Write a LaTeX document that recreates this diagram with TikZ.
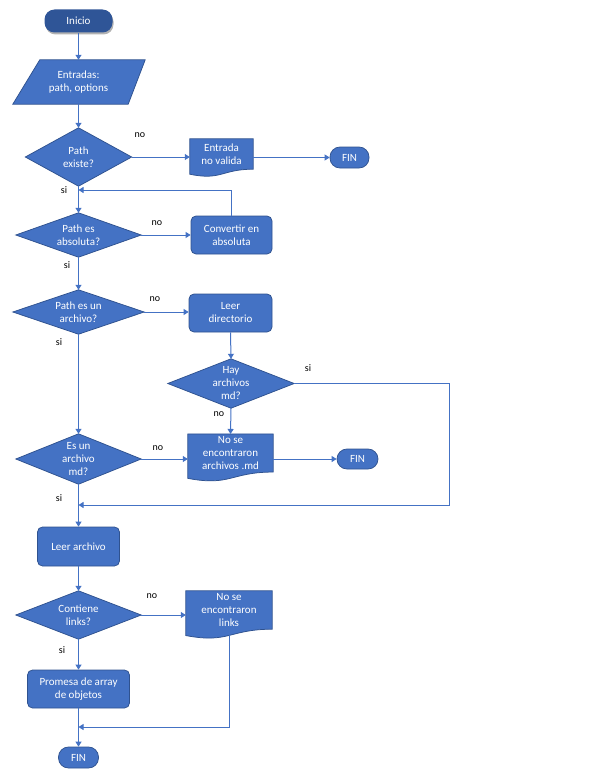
\documentclass[tikz,border=0pt]{standalone}
\usepackage{fontspec}
\setmainfont{Carlito}
\usetikzlibrary{shapes.geometric,arrows.meta,calc,backgrounds,shadows}
\definecolor{boxfill}{HTML}{4472C4}
\definecolor{boxline}{HTML}{2F528F}
\definecolor{startfill}{HTML}{2F5597}
\definecolor{linec}{HTML}{4472C4}
\tikzset{
 base/.style={text=white, font=\fontsize{11}{13}\selectfont, align=center, inner sep=0pt},
 proc/.style={base, rectangle, rounded corners=5pt, fill=boxfill, draw=boxline, line width=0.75pt},
 decis/.style={base, rectangle},
 termi/.style={base, rectangle, rounded corners=10pt, fill=boxfill, draw=boxline, line width=0.75pt},
 docu/.style={base, rectangle},
 shapefill/.style={fill=boxfill, draw=boxline, line width=0.75pt},
 arr/.style={draw=linec, line width=1pt, -{Triangle[length=5pt,width=6pt]}},
 con/.style={draw=linec, line width=1pt},
 lbl/.style={font=\fontsize{10}{12}\selectfont, text=black, inner sep=0pt},
}
\begin{document}
\begin{tikzpicture}[x=1pt,y=-1pt]
\useasboundingbox (0,0) rectangle (596,784);
% terminals
\node[termi, fill=startfill, draw=none, drop shadow={shadow xshift=1pt,shadow yshift=-2pt,opacity=0.3,fill=black}, minimum width=68pt, minimum height=23pt] (ini) at (78.5,21) {Inicio};
\node[termi, minimum width=39pt, minimum height=21pt] (fin1) at (349.5,157.5) {FIN};
\node[termi, minimum width=41pt, minimum height=20pt] (fin2) at (357.5,459) {FIN};
\node[termi, minimum width=40pt, minimum height=21pt] (fin3) at (78.5,757.5) {FIN};
% input
\node[base, minimum width=105pt, minimum height=44pt] (inp) at (78.5,82) {Entradas:\\path, options};
% decisions
\node[decis, minimum width=106pt, minimum height=58pt] (d1) at (78.5,157) {Path\\existe?};
\node[decis, minimum width=125pt, minimum height=44pt] (d2) at (78.5,235) {Path es\\absoluta?};
\node[decis, minimum width=131pt, minimum height=44pt] (d3) at (78.5,312) {Path es un\\archivo?};
\node[decis, minimum width=126pt, minimum height=49pt] (d4) at (231,383.5) {Hay\\archivos\\md?};
\node[decis, minimum width=125pt, minimum height=50pt] (d5) at (78.5,459) {Es un\\archivo\\md?};
\node[decis, minimum width=125pt, minimum height=48pt] (d6) at (78.5,615) {Contiene\\links?};
% processes
\node[proc, minimum width=81pt, minimum height=38pt] (conv) at (231.5,235) {Convertir en\\absoluta};
\node[proc, minimum width=83pt, minimum height=38pt] (ld) at (230.5,313) {Leer\\directorio};
\node[proc, minimum width=82pt, minimum height=39pt] (la) at (78.5,546.5) {Leer archivo};
\node[proc, minimum width=102pt, minimum height=38pt] (prom) at (78.5,689) {Promesa de array\\de objetos};
% documents
\node[docu, minimum width=63pt, minimum height=30pt] (doc1) at (221.5,154) {Entrada\\no valida};
\node[docu, minimum width=85pt, minimum height=37.7pt] (doc2) at (230.5,453) {No se\\encontraron\\archivos .md};
\node[docu, minimum width=86pt, minimum height=38pt] (doc3) at (229,610) {No se\\encontraron\\links};
% shapes behind
\begin{pgfonlayer}{background}
 \foreach \n in {d1,d2,d3,d4,d5,d6}
  \path[shapefill] (\n.north) -- (\n.east) -- (\n.south) -- (\n.west) -- cycle;
 \path[shapefill] ($(inp.north west)+(14,0)$) -- ($(inp.north east)+(14,0)$) -- ($(inp.south east)+(-3,0)$) -- ($(inp.south west)+(-13,0)$) -- cycle;
 \foreach \n in {doc1,doc2,doc3}
  \path[shapefill] (\n.north west) -- (\n.north east) -- (\n.south east) .. controls (\n.south) and ($(\n.south)!-0.38!(\n.north)$) .. ($(\n.south west)!-0.165!(\n.north west)$) -- cycle;
\end{pgfonlayer}
% helper coordinates
\coordinate (j1) at (78.5,190);
\coordinate (c1) at (449,505);
\coordinate (j2) at (78.5,505);
\coordinate (d3b) at ($(doc3.south)+(0,6.2)$);
\coordinate (j3) at (78.5,727);
% connectors
\draw[arr] (ini.south) -- (inp.north);
\draw[arr] (inp.south) -- (d1.north);
\draw[arr] (d1.east) -- (d1.east -| doc1.west);
\draw[arr] (fin1 -| doc1.east) -- (fin1.west);
\draw[arr] (d1.south) -- (d2.north);
\draw[arr] (conv.north) |- (j1);
\draw[arr] (d2.east) -- (conv.west);
\draw[arr] (d2.south) -- (d3.north);
\draw[arr] (d3.east) -- (d3.east -| ld.west);
\draw[arr] (d3.south) -- (d5.north);
\draw[arr] (ld.south) -- (d4.north);
\draw[arr] (d4.east) -| (c1) -- (j2);
\draw[arr] (d4.south) -- (doc2.north);
\draw[arr] (d5.east) -- (d5.east -| doc2.west);
\draw[arr] (fin2 -| doc2.east) -- (fin2.west);
\draw[arr] (d5.south) -- (la.north);
\draw[arr] (la.south) -- (d6.north);
\draw[arr] (d6.east) -- (d6.east -| doc3.west);
\draw[arr] (d6.south) -- (prom.north);
\draw[arr] (prom.south) -- (fin3.north);
\draw[arr] (d3b) |- (j3);
% labels
\node[lbl] (l1) at (140,135) {no};
\node[lbl] (l2) at (64,190) {si};
\node[lbl] (l3) at (157,223) {no};
\node[lbl] (l4) at (67,265) {si};
\node[lbl] (l5) at (155,299) {no};
\node[lbl] (l6) at (59,342) {si};
\node[lbl] (l7) at (308,368) {si};
\node[lbl] (l8) at (219,414) {no};
\node[lbl] (l9) at (158,448) {no};
\node[lbl] (l10) at (59,498) {si};
\node[lbl] (l11) at (152,596) {no};
\node[lbl] (l12) at (62,650) {si};
\end{tikzpicture}
\end{document}
